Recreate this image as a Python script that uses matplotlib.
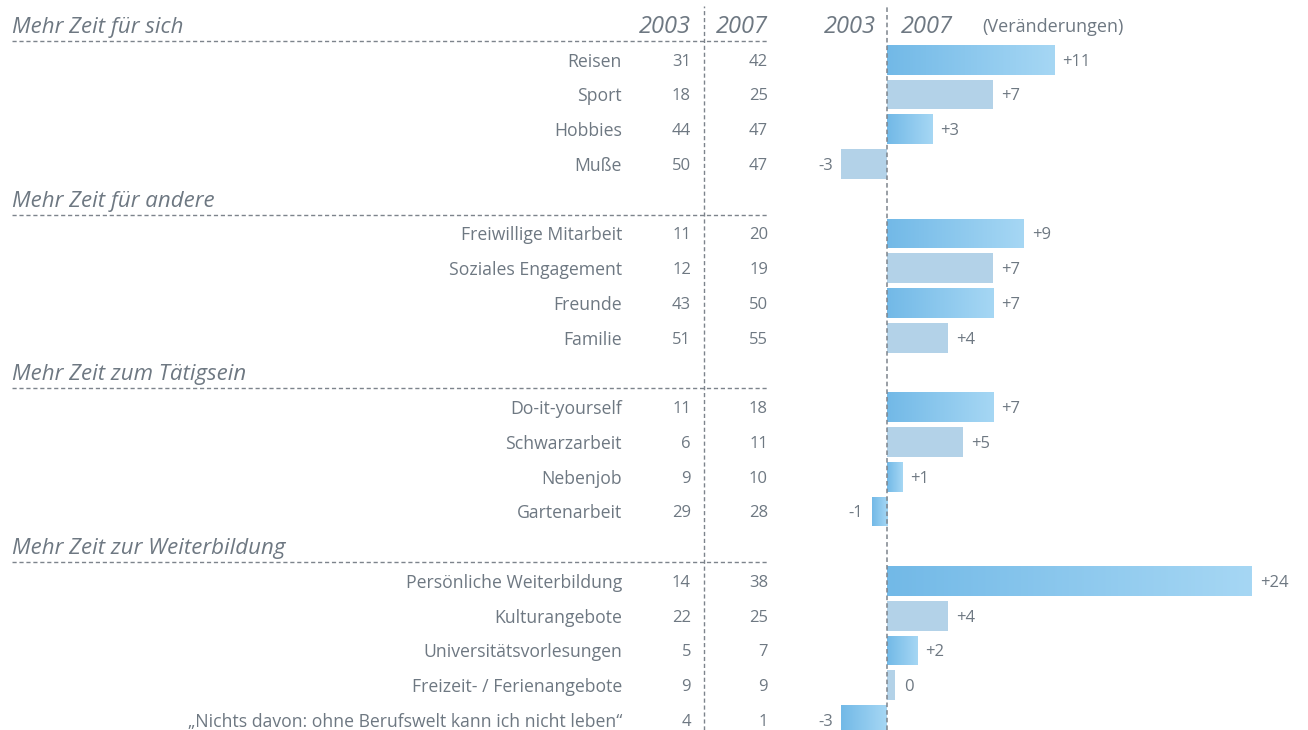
import numpy as np
import matplotlib.pyplot as plt
from matplotlib.colors import LinearSegmentedColormap

plt.rcParams['font.family'] = ['Open Sans', 'DejaVu Sans']

# Daten
gruppen = ["Mehr Zeit für sich", "Mehr Zeit für andere",
           "Mehr Zeit zum Tätigsein", "Mehr Zeit zur Weiterbildung"]
labels = [
    ["Reisen", "Sport", "Hobbies", "Muße"],
    ["Freiwillige Mitarbeit", "Soziales Engagement", "Freunde", "Familie"],
    ["Do-it-yourself", "Schwarzarbeit", "Nebenjob", "Gartenarbeit"],
    ["Persönliche Weiterbildung", "Kulturangebote", "Universitätsvorlesungen",
     "Freizeit- / Ferienangebote",
     "\u201eNichts davon: ohne Berufswelt kann ich nicht leben\u201c"],
]
werte_2003 = [[31, 18, 44, 50], [11, 12, 43, 51], [11, 6, 9, 29], [14, 22, 5, 9, 4]]
werte_2007 = [[42, 25, 47, 47], [20, 19, 50, 55], [18, 11, 10, 28], [38, 25, 7, 9, 1]]
# Veränderungen wie in der Grafik angegeben (gerundet aus Originalwerten)
veraenderung = [[11, 7, 3, -3], [9, 7, 7, 4], [7, 5, 1, -1], [24, 4, 2, 0, -3]]
verlauf = [[1, 0, 1, 0], [1, 0, 1, 0], [1, 0, 1, 1], [1, 0, 1, 0, 1]]

grau = '#6e7882'
linie = '#7d848c'
flach = '#b3d2e8'
cmap = LinearSegmentedColormap.from_list('blau', ['#72b9e7', '#a6d7f4'])

W, H = 1308, 730
fig = plt.figure(figsize=(W / 100, H / 100), dpi=100)

pitch = 34.75
y0 = 25
ylim = ((H - y0) / pitch, -y0 / pitch)

ax_t = fig.add_axes([0, 0, 1, 1])
ax_t.set_xlim(0, W)
ax_t.set_ylim(*ylim)
ax_t.axis('off')

x_links = 780
px_per = 15.2
x_null = 887
ax_b = fig.add_axes([x_links / W, 0, (W - x_links) / W, 1])
ax_b.set_xlim((x_links - x_null) / px_per, (W - x_null) / px_per)
ax_b.set_ylim(*ylim)
ax_b.axis('off')
ax_b.patch.set_alpha(0)

dash = (0, (3, 2))

# Spaltenköpfe
kopf = dict(color=grau, fontsize=17, style='italic', va='center_baseline')
ax_t.text(691, -0.03, "2003", ha='right', **kopf)
ax_t.text(768, -0.03, "2007", ha='right', **kopf)
ax_t.text(876, -0.03, "2003", ha='right', **kopf)
ax_t.text(901, -0.03, "2007", ha='left', **kopf)
ax_t.text(982, 0, "(Veränderungen)", ha='left', color=grau, fontsize=13,
          va='center_baseline')

# vertikale Linien
ax_t.plot([704, 704], [ylim[0], -0.55], color=linie, lw=1, ls=dash)
ax_b.axvline(0, ymin=0, ymax=1 - 5 / H, color=linie, lw=1.1, ls=dash, zorder=5)

slot = 0
for g, name in enumerate(gruppen):
    ax_t.text(12, slot, name, ha='left', va='center_baseline', color=grau,
              fontsize=16, style='italic')
    ax_t.plot([12, 768], [slot + 0.46, slot + 0.46], color=linie, lw=1, ls=dash)
    slot += 1
    for i, lab in enumerate(labels[g]):
        a, b = werte_2003[g][i], werte_2007[g][i]
        d = veraenderung[g][i]
        ax_t.text(622, slot, lab, ha='right', va='center_baseline', color=grau, fontsize=12.7)
        ax_t.text(691, slot, str(a), ha='right', va='center_baseline', color=grau, fontsize=12)
        ax_t.text(768, slot, str(b), ha='right', va='center_baseline', color=grau, fontsize=12)

        w = d if d != 0 else 0.55
        h = 0.86
        if verlauf[g][i]:
            bar = ax_b.barh(slot, w, height=h, color='none', edgecolor='none')[0]
            x0, x1 = min(0, w), max(0, w)
            grad = np.linspace(0, 1, 256).reshape(1, -1)
            im = ax_b.imshow(grad, extent=[x0, x1, slot + h / 2, slot - h / 2],
                             cmap=cmap, aspect='auto', zorder=2)
            im.set_clip_path(bar)
        else:
            ax_b.barh(slot, w, height=h, color=flach, edgecolor='none', zorder=2)

        if d > 0:
            ax_b.text(w + 0.52, slot, f"+{d}", ha='left', va='center_baseline',
                      color=grau, fontsize=12)
        elif d < 0:
            ax_b.text(w - 0.55, slot, f"{d}", ha='right', va='center_baseline',
                      color=grau, fontsize=12)
        else:
            ax_b.text(w + 0.55, slot, "0", ha='left', va='center_baseline',
                      color=grau, fontsize=12)
        slot += 1

fig.savefig('out.png', dpi=100)
